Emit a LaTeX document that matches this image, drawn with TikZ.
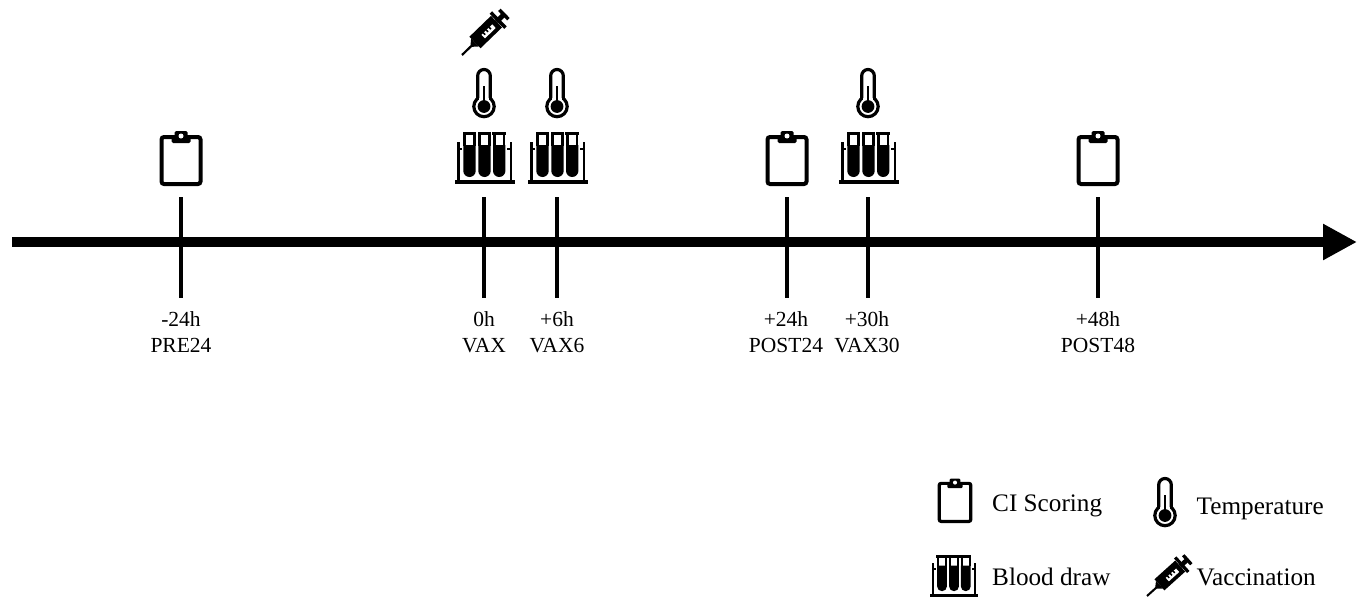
\documentclass[tikz,border=0pt]{standalone}
\usepackage{fontspec}
\setmainfont{Liberation Serif}
\usetikzlibrary{arrows.meta}
\tikzset{
  x=1pt,y=-1pt,
  axisline/.style={line width=10pt,-{Triangle[length=34pt,width=34pt]}},
  tick/.style={line width=4pt},
  lab/.style={font=\fontsize{21.5}{25.5}\selectfont,inner sep=0pt,anchor=center,align=center},
  leg/.style={font=\fontsize{25.2}{28}\selectfont,inner sep=0pt,anchor=base west},
  pics/clipicon/.style={code={
    \draw[line width=#1*4pt,rounded corners=#1*2.5pt] (-19.5,-23) rectangle (19.5,24);
    \fill[rounded corners=#1*1.5pt] (-9.5,-17) -- (-9.5,-23) -- (-6.5,-23) -- (-6.5,-29) -- (6.5,-29) -- (6.5,-23) -- (9.5,-23) -- (9.5,-17) -- cycle;
    \fill[white] (0,-24) circle (2.5);
  }},
  pics/thermoicon/.style={code={
    \draw[line width=#1*3.2pt,fill=white] (0,18.5) circle (10.2);
    \fill[white] (-5,4) rectangle (5,14);
    \draw[line width=#1*3.2pt] (-6.3,10) -- (-6.3,-12.2) arc[start angle=180,end angle=360,radius=6.3] -- (6.3,10);
    \fill (0,18.5) circle (6.4);
    \draw[line width=#1*2pt] (0,-2) -- (0,16);
  }},
  pics/rackicon/.style={code={
    \fill (-30,22) rectangle (30,26);
    \fill (-27.5,-16) rectangle (-25,22);
    \fill (25,-16) rectangle (27.5,22);
    \fill (-26,-10) rectangle (26,-8);
    \foreach \tx in {-15,0,14.7}{
      \begin{scope}[shift={(\tx,0)}]
        \fill[white] (-7.5,-20) rectangle (7.5,22);
        \fill (-6.9,-26) rectangle (6.9,-23);
        \fill (-6.2,-24) rectangle (-3.6,-12);
        \fill (3.6,-24) rectangle (6.2,-12);
        \fill (-6.2,-13) -- (6.2,-13) -- (6.2,12.8) arc[start angle=0,end angle=180,radius=6.2] -- cycle;
      \end{scope}
    }
  }},
  pics/syringeicon/.style={code={
    \draw[line width=#1*2.2pt] (0,0) -- (16,0);
    \fill (13,-1.2) -- (18,-5.5) -- (18,5.5) -- (13,1.2) -- cycle;
    \fill (18,-8) rectangle (48,8);
    \fill[white] (28,-1) rectangle (43,4);
    \foreach \gx in {30,34,38}{\fill (\gx,-1.5) rectangle (\gx+1.6,1.5);}
    \fill (48,-2.5) rectangle (58,2.5);
    \fill (48.5,-10.5) rectangle (52,10.5);
    \fill (56.5,-6.5) rectangle (60,6.5);
  }}
}
\begin{document}
\begin{tikzpicture}
\useasboundingbox (0,0) rectangle (1361,597);
% axis
\coordinate (axstart) at (12,242);
\coordinate (axend) at (1357,242);
\draw[axisline] (axstart) -- (axend);
% ticks
\foreach \nm/\tx in {a/181,b/484,c/557,d/787,e/868,f/1098}{
  \coordinate (top\nm) at (\tx,197);
  \coordinate (bot\nm) at (\tx,298);
  \draw[tick] (top\nm) -- (bot\nm);
}
% labels
\node[lab] (la) at (181,332) {-24h\\PRE24};
\node[lab] (lb) at (484,332) {0h\\VAX};
\node[lab] (lc) at (557,332) {+6h\\VAX6};
\node[lab] (ld) at (786,332) {+24h\\POST24};
\node[lab] (le) at (867,332) {+30h\\VAX30};
\node[lab] (lf) at (1098,332) {+48h\\POST48};
% timeline icons
\pic at (181,160) {clipicon=1};
\pic at (787,160) {clipicon=1};
\pic at (1098,160) {clipicon=1};
\pic at (484.5,158) {rackicon=1};
\pic at (557.5,158) {rackicon=1};
\pic at (868.5,158) {rackicon=1};
\pic at (484,88) {thermoicon=1};
\pic at (557,88) {thermoicon=1};
\pic at (868,88) {thermoicon=1};
\pic[rotate=44] at (462,55) {syringeicon=1};
% legend
\pic[scale=.81] at (955,502) {clipicon=.81};
\pic at (1165,497) {thermoicon=1};
\pic[scale=.8] at (954,576) {rackicon=.8};
\pic[scale=.93,rotate=42] at (1147,596) {syringeicon=.93};
\node[leg] (l1) at (992,511) {CI Scoring};
\node[leg] (l2) at (1196.5,514) {Temperature};
\node[leg] (l3) at (992,585) {Blood draw};
\node[leg] (l4) at (1196.5,585) {Vaccination};
\end{tikzpicture}
\end{document}
